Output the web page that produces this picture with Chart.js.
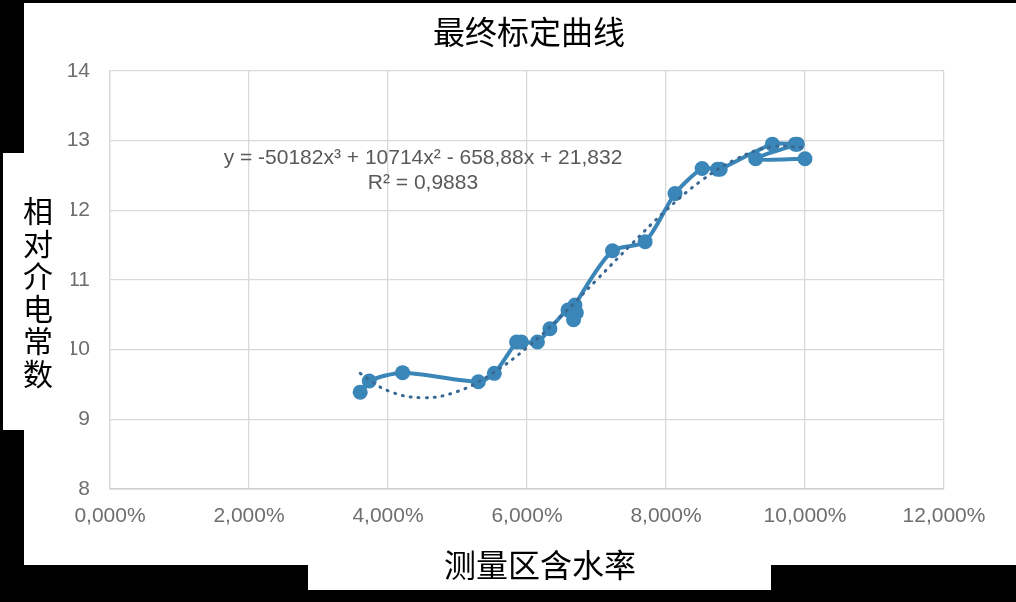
<!DOCTYPE html>
<html>
<head>
<meta charset="utf-8">
<script src="https://cdn.jsdelivr.net/npm/chart.js@4/dist/chart.umd.min.js"></script>
<style>
  html, body { margin: 0; padding: 0; background: #000; }
  body { width: 1016px; height: 602px; position: relative; overflow: hidden; }
  .paper { position: absolute; background: #fff; }
  #chart-box { position: absolute; left: 0; top: 0; width: 1016px; height: 602px; }
</style>
</head>
<body>
<div class="paper" style="left:24px; top:3px; width:992px; height:562px;"></div>
<div class="paper" style="left:308px; top:560px; width:463px; height:30px;"></div>
<div id="chart-box"><canvas id="calib-chart"></canvas></div>

<script>
// measured points, in the order the line joins them
const moisture = [3.60, 3.73, 4.21, 5.30, 5.53, 5.85, 5.92, 6.15, 6.33, 6.59, 6.67, 6.71, 6.69,
                  7.23, 7.70, 8.13, 8.52, 8.74, 8.78, 9.53, 9.86, 9.89, 9.29, 10.00];
const permittivity = [9.39, 9.55, 9.67, 9.54, 9.66, 10.11, 10.11, 10.11, 10.30, 10.57, 10.43, 10.53, 10.64,
                      11.42, 11.55, 12.24, 12.60, 12.59, 12.59, 12.95, 12.95, 12.95, 12.74, 12.74];

// dotted trend line
const trendMoisture = [3.6, 4.0, 4.5, 5.0, 5.5, 6.0, 6.5, 7.0, 7.5, 8.0, 8.5, 9.0, 9.5, 10.0];
const trendPermittivity = [9.66, 9.41, 9.31, 9.40, 9.66, 10.03, 10.49, 11.00, 11.51, 12.00, 12.42, 12.73, 12.91, 12.90];

const xTickLabels = ['0,000%', '2,000%', '4,000%', '6,000%', '8,000%', '10,000%', '12,000%'];
const yTickLabels = ['8', '9', '10', '11', '12', '13', '14'];

const chartTitle = '最终标定曲线';
const xTitle = '测量区含水率';
const yTitle = '相对介电常数';
const equationText = 'y = -50182x³ + 10714x² - 658,88x + 21,832';
const rSquaredText = 'R² = 0,9883';

const LINE_BLUE = '#3b86b8';
const TICK_GREY = '#6e6e6e';

const textPlugin = {
  id: 'calibText',
  afterDraw(chart) {
    const { ctx } = chart;
    ctx.save();

    // equation of the trend line
    ctx.fillStyle = '#595959';
    ctx.font = '21px "Liberation Sans", Arial, sans-serif';
    ctx.textAlign = 'center';
    ctx.textBaseline = 'middle';
    ctx.fillText(equationText, 423, 158);
    ctx.fillText(rSquaredText, 423, 183);

    // white patch over the left tick labels, with the vertical axis title on it
    ctx.fillStyle = '#fff';
    ctx.fillRect(3, 153, 68, 277);

    ctx.fillStyle = '#000';
    ctx.font = '30px "Noto Sans CJK SC", sans-serif';
    [...yTitle].forEach((ch, i) => {
      ctx.fillText(ch, 38, 211 + i * 32.5);
    });

    ctx.font = '32px "Noto Sans CJK SC", sans-serif';
    ctx.fillText(chartTitle, 529, 32);
    ctx.fillText(xTitle, 540, 565);

    ctx.restore();
  }
};

new Chart(document.getElementById('calib-chart'), {
  type: 'scatter',
  data: {
    datasets: [
      {
        data: trendMoisture.map((x, i) => ({ x: x, y: trendPermittivity[i] })),
        showLine: true,
        borderColor: '#3a6894',
        borderWidth: 3,
        borderDash: [1, 7],
        borderCapStyle: 'round',
        pointRadius: 0,
        tension: 0.4,
        order: 0
      },
      {
        data: moisture.map((x, i) => ({ x: x, y: permittivity[i] })),
        showLine: true,
        borderColor: LINE_BLUE,
        backgroundColor: LINE_BLUE,
        borderWidth: 4,
        pointRadius: 7.5,
        pointBorderWidth: 0,
        tension: 0.25,
        order: 1
      }
    ]
  },
  options: {
    responsive: true,
    maintainAspectRatio: false,
    animation: false,
    layout: { padding: { top: 71, right: 72, left: 0, bottom: 0 } },
    plugins: {
      legend: { display: false },
      tooltip: { enabled: false }
    },
    scales: {
      x: {
        type: 'linear',
        min: 0,
        max: 12,
        afterFit(scale) { scale.height = 113; },
        ticks: {
          stepSize: 2,
          autoSkip: false,
          maxRotation: 0,
          padding: 15,
          color: TICK_GREY,
          font: { family: '"Liberation Sans", Arial, sans-serif', size: 21 },
          callback: (v) => xTickLabels[Math.round(v / 2)]
        },
        grid: { color: '#d9d9d9', lineWidth: 1.3, drawTicks: false },
        border: { color: '#d0d0d0', width: 1.5 }
      },
      y: {
        min: 8,
        max: 14,
        afterFit(scale) { scale.width = 110; },
        ticks: {
          stepSize: 1,
          padding: 20,
          color: TICK_GREY,
          font: { family: '"Liberation Sans", Arial, sans-serif', size: 21 },
          callback: (v) => yTickLabels[Math.round(v - 8)]
        },
        grid: { color: '#d9d9d9', lineWidth: 1.3, drawTicks: false },
        border: { color: '#d9d9d9', width: 1.3 }
      }
    }
  },
  plugins: [textPlugin]
});
</script>
</body>
</html>
